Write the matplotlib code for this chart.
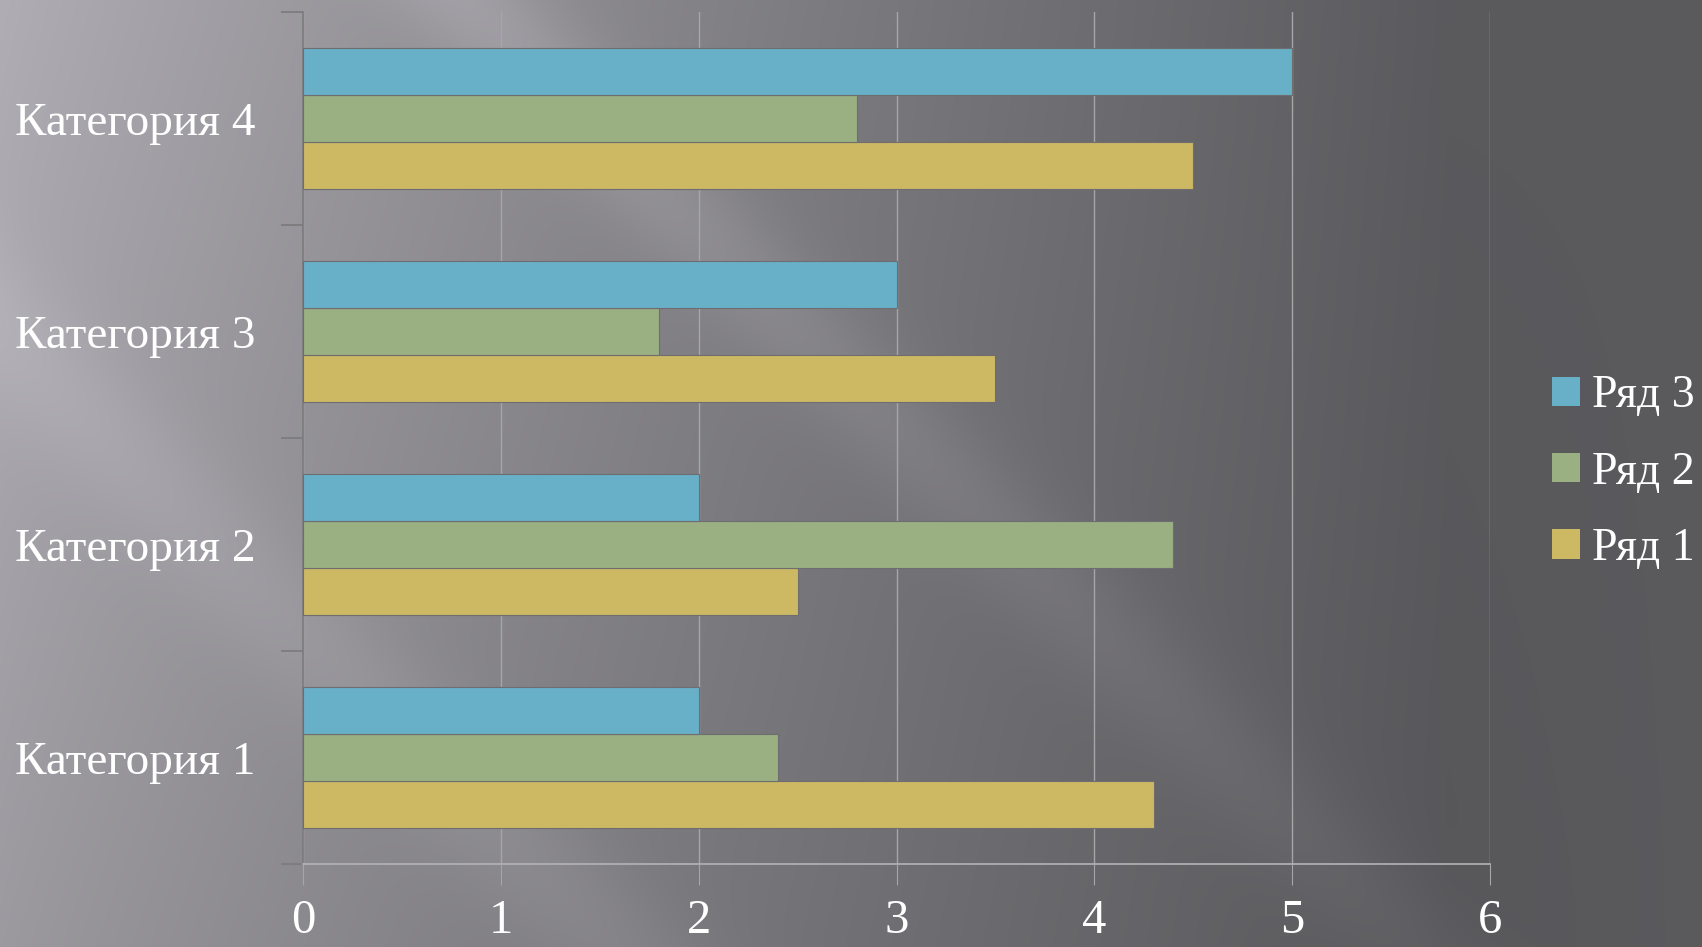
import numpy as np
import matplotlib
matplotlib.use("Agg")
import matplotlib.pyplot as plt
from matplotlib.patches import Patch

# Chart data
categories = ["Категория 1", "Категория 2", "Категория 3", "Категория 4"]
series_names = ["Ряд 1", "Ряд 2", "Ряд 3"]
row1 = [4.3, 2.5, 3.5, 4.5]
row2 = [2.4, 4.4, 1.8, 2.8]
row3 = [2.0, 2.0, 3.0, 5.0]
x_ticks = [0, 1, 2, 3, 4, 5, 6]

colors = ["#CDB964", "#9AAF82", "#68AFC8"]

plt.rcParams["font.family"] = ["Liberation Serif", "DejaVu Serif"]

W, H = 1702, 947
fig = plt.figure(figsize=(W / 100, H / 100), dpi=100)

# Grey gradient background with soft diagonal highlights
yy, xx = np.mgrid[0:H, 0:W].astype(float)
t = xx / W
base = 0.70 - 0.34 * np.clip(t / 0.85, 0, 1) ** 0.9 - 0.08 * (yy / H) * (1 - t)
u = xx - yy
base += 0.07 * np.exp(-((u - 470) / 80.0) ** 2) * np.clip(1.2 - t, 0, 1)
base += 0.04 * np.exp(-((u + 330) / 90.0) ** 2)
img = np.dstack([base * 0.985, base * 0.975, base * 1.01])
img = np.clip(img, 0, 1)
bg = fig.add_axes([0, 0, 1, 1], zorder=-1)
bg.imshow(img, aspect="auto", extent=[0, 1, 0, 1], interpolation="bilinear")
bg.axis("off")

ax = fig.add_axes([303 / W, 1 - 864 / H, (1490 - 303) / W, (864 - 12) / H])
ax.patch.set_alpha(0)

y = np.arange(len(categories))
h = 0.221
for vals, off, c, name in zip([row1, row2, row3], [-h, 0, h], colors, series_names):
    ax.barh(y + off, vals, height=h, color=c, edgecolor="#6E6E70",
            linewidth=0.8, label=name, zorder=3)

ax.set_xlim(0, 6)
ax.set_ylim(-0.5, 3.5)
ax.set_xticks(x_ticks)
ax.set_xticklabels([str(v) for v in x_ticks])
ax.set_yticks(y)
ax.set_yticklabels(categories)
ax.set_yticks(np.arange(-0.5, 4, 1), minor=True)

ax.grid(axis="x", color="#A6A6A8", linewidth=1, zorder=1)
for s in ["top", "right"]:
    ax.spines[s].set_visible(False)
ax.spines["left"].set_color("#7A7A7C")
ax.spines["bottom"].set_color("#B4B4B6")
ax.spines["left"].set_linewidth(1.2)
ax.spines["bottom"].set_linewidth(1.2)

ax.tick_params(axis="x", direction="out", length=15, color="#A6A6A8",
               labelsize=35, labelcolor="white", pad=10)
ax.tick_params(axis="y", which="major", length=0, labelsize=34,
               labelcolor="white", pad=34)
ax.tick_params(axis="y", which="minor", direction="out", length=16,
               color="#7A7A7C", width=1.2)

handles = [Patch(facecolor=c, edgecolor="none") for c in colors]
leg = fig.legend(handles[::-1], series_names[::-1], loc="center left",
                 bbox_to_anchor=(1552 / W, 1 - 472.5 / H), frameon=False,
                 fontsize=33, handlelength=0.6, handleheight=0.6,
                 handletextpad=0.28, labelspacing=0.74, borderpad=0,
                 borderaxespad=0)
for txt in leg.get_texts():
    txt.set_color("white")

fig.savefig("out.png", dpi=100)
